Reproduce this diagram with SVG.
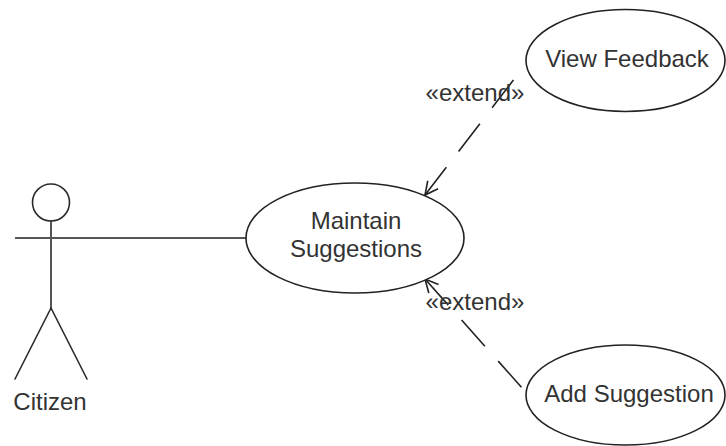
<svg xmlns="http://www.w3.org/2000/svg" width="726" height="446" viewBox="0 0 726 446">
  <style>
    .shape { fill: #ffffff; stroke: #222222; stroke-width: 1.6; }
    .stick { fill: none; stroke: #2a2a2a; stroke-width: 1.6; stroke-linecap: round; }
    .label { font-family: "Liberation Sans", Arial, sans-serif; font-size: 24px; fill: #333333; text-anchor: middle; }
    .assoc { fill: none; stroke: #555555; stroke-width: 2.2; }
    .extend { fill: none; stroke: #222222; stroke-width: 1.6; stroke-dasharray: 35 20; }
  </style>
  <defs>
    <marker id="openArrow" markerUnits="userSpaceOnUse" markerWidth="20" markerHeight="20" refX="0" refY="0" viewBox="-2 -10 20 20" orient="auto-start-reverse" overflow="visible">
      <path d="M -13 -6.5 L 0 0 L -13 6.5" fill="none" stroke="#222222" stroke-width="1.6"/>
    </marker>
  </defs>
  <rect width="726" height="446" fill="#ffffff"/>

  <!-- connectors -->
  <g id="connectors">
    <line class="assoc" x1="87" y1="238" x2="246" y2="238"/>
    <line class="extend" x1="425" y1="195" x2="515" y2="78" marker-start="url(#openArrow)"/>
    <line class="extend" x1="425" y1="279" x2="523" y2="389" marker-start="url(#openArrow)"/>
    <text class="label" x="475" y="101">«extend»</text>
    <text class="label" x="475" y="310">«extend»</text>
  </g>

  <!-- actor -->
  <g id="citizen">
    <circle class="stick" cx="51" cy="202.5" r="18.5"/>
    <line class="stick" x1="51" y1="221" x2="51" y2="308"/>
    <line class="assoc" x1="15" y1="238" x2="87" y2="238"/>
    <line class="stick" x1="51" y1="308" x2="15" y2="379"/>
    <line class="stick" x1="51" y1="308" x2="87" y2="379"/>
    <text class="label" x="50" y="410">Citizen</text>
  </g>

  <!-- use cases -->
  <g id="maintain-suggestions">
    <ellipse class="shape" cx="355" cy="238" rx="109" ry="55"/>
    <text class="label" x="356" y="229">Maintain</text>
    <text class="label" x="356" y="257">Suggestions</text>
  </g>

  <g id="view-feedback">
    <ellipse class="shape" cx="625.5" cy="60.5" rx="99.5" ry="51"/>
    <text class="label" x="627" y="67">View Feedback</text>
  </g>

  <g id="add-suggestion">
    <ellipse class="shape" cx="625.5" cy="395" rx="99.5" ry="50"/>
    <text class="label" x="629" y="402">Add Suggestion</text>
  </g>
</svg>
